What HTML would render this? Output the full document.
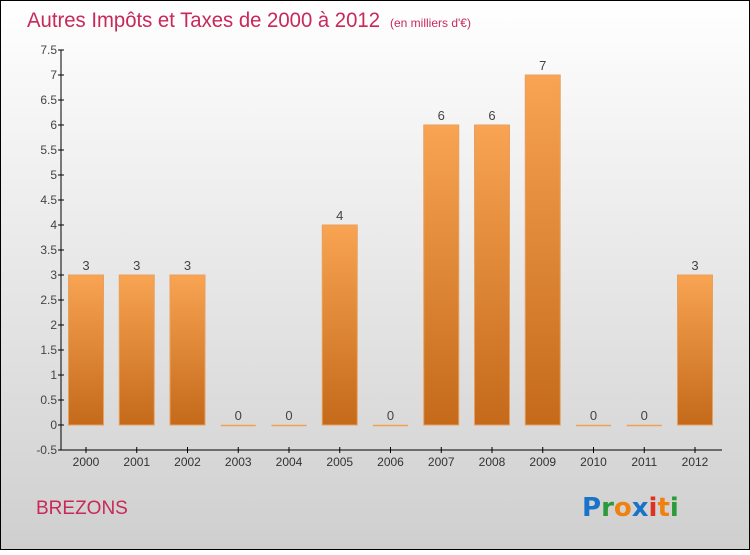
<!DOCTYPE html>
<html><head><meta charset="utf-8"><style>
html,body{margin:0;padding:0;}
body{width:750px;height:550px;overflow:hidden;font-family:"Liberation Sans",sans-serif;}
</style></head><body>
<svg id="chart" width="750" height="550" xmlns="http://www.w3.org/2000/svg">
<defs>
<linearGradient id="bg" x1="0" y1="0" x2="0" y2="1"><stop offset="0" stop-color="#ffffff"/><stop offset="1" stop-color="#cfcfcf"/></linearGradient>
<linearGradient id="bar" x1="0" y1="0" x2="0" y2="1"><stop offset="0" stop-color="#f8a452"/><stop offset="1" stop-color="#c46a1a"/></linearGradient>
</defs>
<rect x="0.5" y="0.5" width="749" height="549" fill="url(#bg)" stroke="#000"/>
<text x="27" y="27" font-size="21" fill="#c8285a" textLength="353" lengthAdjust="spacingAndGlyphs">Autres Impôts et Taxes de 2000 à 2012</text>
<text x="390" y="27" font-size="12" fill="#c8285a">(en milliers d'€)</text>
<text x="36" y="514" font-size="19" fill="#c8285a">BREZONS</text>
<g font-size="26" font-weight="bold" font-family="'DejaVu Sans',sans-serif">
<text x="582" y="516"><tspan fill="#1a73c8">P</tspan><tspan fill="#2a9a3a">r</tspan><tspan fill="#f08010">o</tspan><tspan fill="#1a73c8">x</tspan><tspan fill="#e03020">i</tspan><tspan fill="#f08010">t</tspan><tspan fill="#2a9a3a">i</tspan></text>
</g>
<g id="axes"></g>
<g id="bars"></g>
</svg>
<script>
const categories=["2000","2001","2002","2003","2004","2005","2006","2007","2008","2009","2010","2011","2012"];
const values=[3,3,3,0,0,4,0,6,6,7,0,0,3];
const yTicks=[-0.5,0,0.5,1,1.5,2,2.5,3,3.5,4,4.5,5,5.5,6,6.5,7,7.5];
const yTickLabels=["-0.5","0","0.5","1","1.5","2","2.5","3","3.5","4","4.5","5","5.5","6","6.5","7","7.5"];
const NS="http://www.w3.org/2000/svg";
const y=v=>425-v*50;
const x=i=>86+i*50.75;
const axes=document.getElementById('axes'),bars=document.getElementById('bars');
function mk(p,tag,attrs,txt){const e=document.createElementNS(NS,tag);for(const k in attrs)e.setAttribute(k,attrs[k]);if(txt!==undefined)e.textContent=txt;p.appendChild(e);return e;}
let e=mk(axes,'line',{x1:61,y1:y(7.5),x2:61,y2:y(-0.5),stroke:'#000'});


e=mk(axes,'line',{x1:61,y1:y(-0.5),x2:722,y2:y(-0.5),stroke:'#000'});


yTicks.forEach((t,i)=>{
 const g=mk(axes,'g',{});
 
 
 mk(g,'line',{x1:58,x2:64,y1:y(t),y2:y(t),stroke:'#000'});
 mk(g,'text',{x:57,y:y(t)+4,'font-size':12,'text-anchor':'end',fill:'#444'},yTickLabels[i]);
});
categories.forEach((c,i)=>{
 const g=mk(axes,'g',{});
 
 
 mk(g,'line',{x1:x(i),x2:x(i),y1:y(-0.5)-3,y2:y(-0.5)+3,stroke:'#000'});
 mk(g,'text',{x:x(i),y:y(-0.5)+16,'font-size':12,'text-anchor':'middle',fill:'#333'},c);
 const v=values[i];
 const bg=mk(bars,'g',{});
 
 
 if(v>0){mk(bg,'rect',{x:x(i)-17.5,y:y(v),width:35,height:y(0)-y(v),fill:'url(#bar)',stroke:'#e8a060','stroke-width':1});}
 else{mk(bg,'line',{x1:x(i)-17.5,x2:x(i)+17.5,y1:y(0)+0.5,y2:y(0)+0.5,stroke:'#f0a050','stroke-width':1.5});}
 mk(bg,'text',{x:x(i),y:y(v)-5,'font-size':13,'text-anchor':'middle',fill:'#444'},String(v));
});
</script>
</body></html>
